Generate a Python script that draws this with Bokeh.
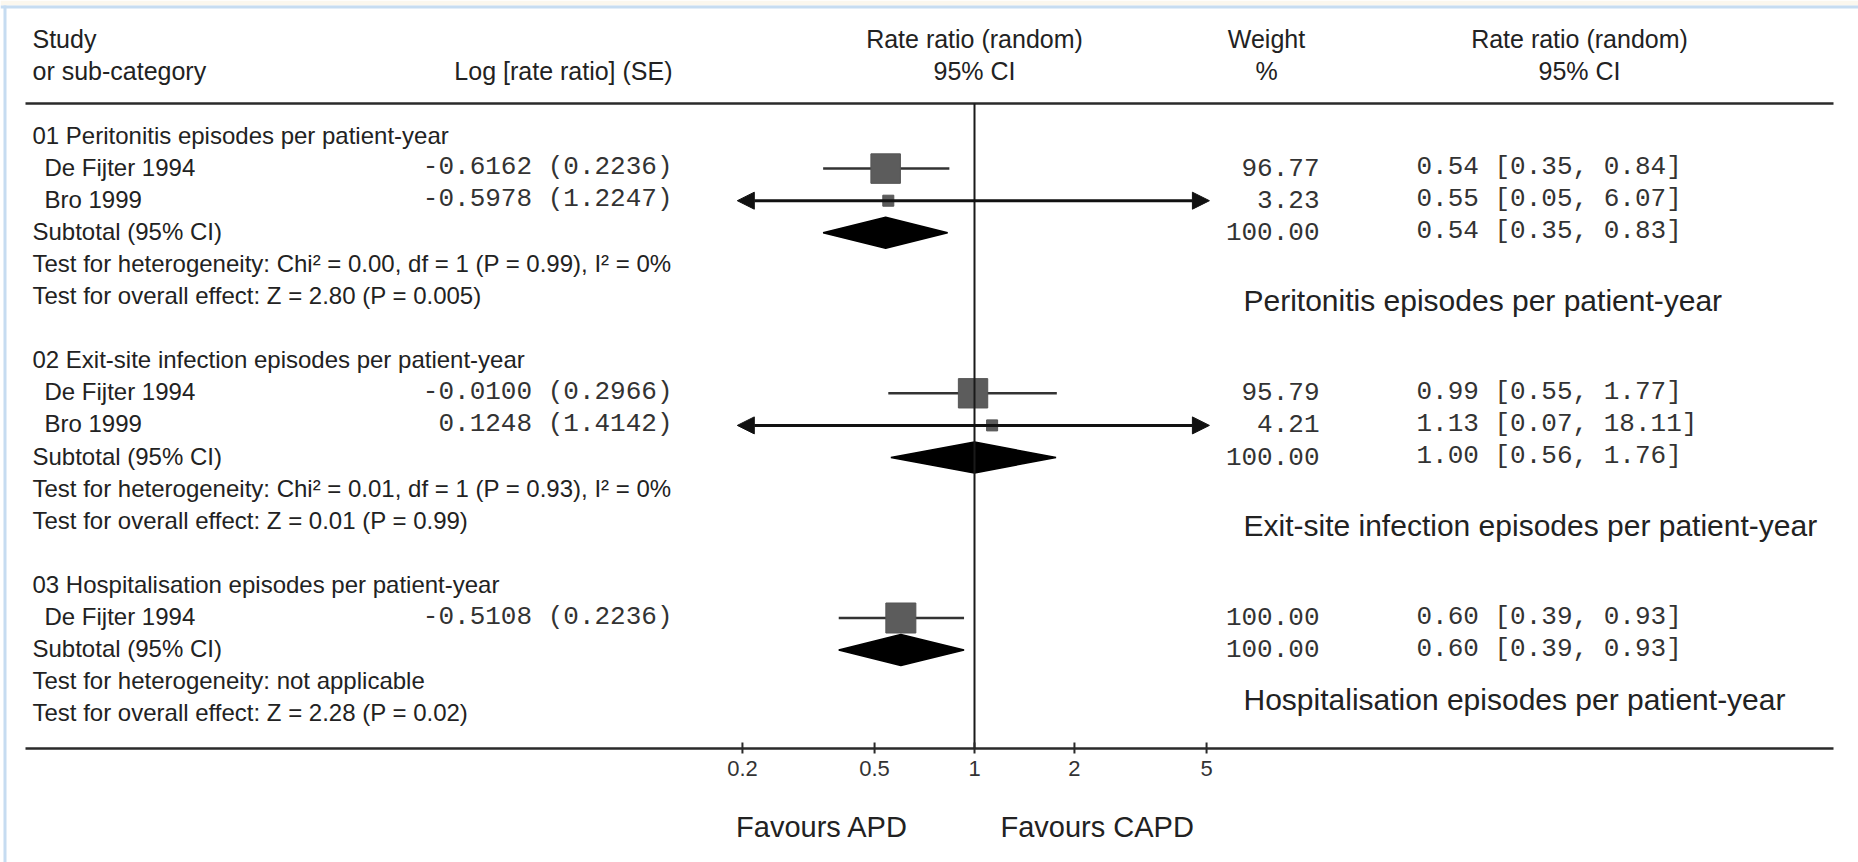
from math import sqrt
from bokeh.plotting import figure
from bokeh.models import Range1d, LogScale, Arrow, NormalHead
from bokeh.embed import file_html
from bokeh.resources import INLINE
from bokeh.core.properties import value

# ---------------- data ----------------
group_titles = ["01 Peritonitis episodes per patient-year",
                "02 Exit-site infection episodes per patient-year",
                "03 Hospitalisation episodes per patient-year"]
study_group = [0, 0, 1, 1, 2]
study_names = ["De Fijter 1994", "Bro 1999", "De Fijter 1994", "Bro 1999", "De Fijter 1994"]
log_rr = [-0.6162, -0.5978, -0.0100, 0.1248, -0.5108]
log_se = [0.2236, 1.2247, 0.2966, 1.4142, 0.2236]
weights = [96.77, 3.23, 95.79, 4.21, 100.00]
rr = [0.54, 0.55, 0.99, 1.13, 0.60]
rr_lo = [0.35, 0.05, 0.55, 0.07, 0.39]
rr_hi = [0.84, 6.07, 1.77, 18.11, 0.93]
sub_weight = [100.00, 100.00, 100.00]
sub_rr = [0.54, 1.00, 0.60]
sub_lo = [0.35, 0.56, 0.39]
sub_hi = [0.83, 1.76, 0.93]
het_texts = ["Test for heterogeneity: Chi\u00b2 = 0.00, df = 1 (P = 0.99), I\u00b2 = 0%",
             "Test for heterogeneity: Chi\u00b2 = 0.01, df = 1 (P = 0.93), I\u00b2 = 0%",
             "Test for heterogeneity: not applicable"]
overall_texts = ["Test for overall effect: Z = 2.80 (P = 0.005)",
                 "Test for overall effect: Z = 0.01 (P = 0.99)",
                 "Test for overall effect: Z = 2.28 (P = 0.02)"]
outcome_labels = ["Peritonitis episodes per patient-year",
                  "Exit-site infection episodes per patient-year",
                  "Hospitalisation  episodes per patient-year"]
tick_values = [0.2, 0.5, 1, 2, 5]
tick_labels = ["0.2", "0.5", "1", "2", "5"]
favours_labels = ["Favours APD", "Favours CAPD"]

# ---------------- layout constants ----------------
W, H = 1858, 862
Y0, STEP = 136.0, 32.1          # pixel y of row 0, pixels per row
X_ONE, PX_DEC = 974.0, 332.0    # pixel x of ratio 1, pixels per decade
LIM_LO, LIM_HI = 0.193, 5.1     # where out-of-range CIs get arrow heads
SANS = "Liberation Sans"
MONO = "Liberation Mono"
BODY = "24px"
HEAD = "25px"
MONO_SZ = "26px"
TXT_DY = -1.5 / STEP            # small upward nudge of text rows


def r(px):
    """pixel row position -> row units"""
    return (px - Y0) / STEP


# rows
rows_title, rows_study, rows_sub, rows_het, rows_ov = [], [], [], [], []
r0 = 0
for g in range(len(group_titles)):
    n = study_group.count(g)
    rows_title.append(r0)
    rows_study += [r0 + 1 + i for i in range(n)]
    rows_sub.append(r0 + 1 + n)
    rows_het.append(r0 + 2 + n)
    rows_ov.append(r0 + 3 + n)
    r0 += n + 5

p = figure(width=W, height=H, x_range=Range1d(0, W), y_range=Range1d(r(H), r(0)),
           toolbar_location=None, output_backend="svg", min_border=0,
           x_axis_location=None, y_axis_location=None, outline_line_color=None,
           background_fill_color="white", border_fill_color="white")
p.grid.visible = False
p.extra_x_ranges = {"rr": Range1d(10 ** ((0 - X_ONE) / PX_DEC), 10 ** ((W - X_ONE) / PX_DEC))}
p.extra_x_scales = {"rr": LogScale()}


def txt(x, y, s, font=SANS, size=BODY, align="left", color="#222222", **kw):
    p.text(x=x, y=[v + TXT_DY for v in y], text=s, text_font=value(font), text_font_size=size,
           text_align=align, text_baseline="middle", text_color=color, **kw)


# frame decoration
p.quad(left=0, right=W, top=r(0), bottom=r(5), fill_color="#fbf7ee", line_color=None)
p.quad(left=0, right=W, top=r(5), bottom=r(8), fill_color="#c6dcf1", line_color=None)
p.quad(left=3, right=6, top=r(5), bottom=r(H), fill_color="#c6dcf1", line_color=None)

# rules
p.segment(x0=[25, 25], x1=[1833, 1833], y0=[r(103), r(748)], y1=[r(103), r(748)],
          line_color="#2a2a2a", line_width=2.5)

# headers
txt([32, 32], [r(40), r(72)], ["Study", "or sub-category"], size=HEAD)
txt([672], [r(72)], ["Log [rate ratio] (SE)"], align="right", size=HEAD)
txt([1, 1], [r(40), r(72)], ["Rate ratio (random)", "95% CI"], align="center",
    size=HEAD, x_range_name="rr")
txt([1266, 1266], [r(40), r(72)], ["Weight", "%"], align="center", size=HEAD)
txt([1579, 1579], [r(40), r(72)], ["Rate ratio (random)", "95% CI"], align="center", size=HEAD)

# left labels
txt([32] * len(rows_title), rows_title, group_titles)
txt([44] * len(rows_study), rows_study, study_names)
txt([32] * len(rows_sub), rows_sub, ["Subtotal (95% CI)"] * len(rows_sub))
txt([32] * len(rows_het), rows_het, het_texts)
txt([32] * len(rows_ov), rows_ov, overall_texts)

# numeric columns
est_txt = [f"{a:.4f} ({b:.4f})" for a, b in zip(log_rr, log_se)]
txt([672] * len(est_txt), rows_study, est_txt, font=MONO, size=MONO_SZ, align="right", color="#333333")
w_txt = [f"{w:.2f}" for w in weights] + [f"{w:.2f}" for w in sub_weight]
w_rows = rows_study + rows_sub
txt([1319] * len(w_txt), w_rows, w_txt, font=MONO, size=MONO_SZ, align="right", color="#333333")
ci_txt = ([f"{a:.2f} [{b:.2f}, {c:.2f}]" for a, b, c in zip(rr, rr_lo, rr_hi)] +
          [f"{a:.2f} [{b:.2f}, {c:.2f}]" for a, b, c in zip(sub_rr, sub_lo, sub_hi)])
txt([1416] * len(ci_txt), w_rows, ci_txt, font=MONO, size=MONO_SZ, align="left", color="#333333")

# outcome labels on the right
txt([1243] * 3, [r(301), r(526), r(700)], outcome_labels, size="30px")

# confidence intervals
for i in range(len(rr)):
    lo_c = max(rr_lo[i], LIM_LO)
    hi_c = min(rr_hi[i], LIM_HI)
    row = rows_study[i]
    if rr_lo[i] < LIM_LO or rr_hi[i] > LIM_HI:
        head = lambda: NormalHead(size=17, fill_color="#111111", line_color="#111111")
        p.add_layout(Arrow(start=head() if rr_lo[i] < LIM_LO else None,
                           end=head() if rr_hi[i] > LIM_HI else None,
                           x_start=lo_c, x_end=hi_c, y_start=row, y_end=row,
                           line_color="#111111", line_width=3, x_range_name="rr"))
    else:
        p.segment(x0=[lo_c], x1=[hi_c], y0=[row], y1=[row], line_color="#333333",
                  line_width=2.5, x_range_name="rr")

# squares
sizes = [max(11, 30 * sqrt(w / 100.0)) for w in weights]
p.scatter(x=rr, y=rows_study, size=sizes, marker="square", fill_color="#5c5c5c",
          line_color="#555555", line_width=1, x_range_name="rr")

# diamonds
DH = 15.5 / STEP
xs = [[lo, est, hi, est] for est, lo, hi in zip(sub_rr, sub_lo, sub_hi)]
ys = [[row, row - DH, row, row + DH] for row in rows_sub]
p.patches(xs, ys, fill_color="black", line_color="black", line_width=1.5, x_range_name="rr")

# line of no effect
p.segment(x0=[1], x1=[1], y0=[r(103)], y1=[r(748)], line_color="#1a1a1a",
          line_width=2, x_range_name="rr")

# axis ticks & labels
p.segment(x0=tick_values, x1=tick_values, y0=[r(742)] * 5, y1=[r(753)] * 5,
          line_color="#2a2a2a", line_width=2, x_range_name="rr")
txt(tick_values, [r(769)] * 5, tick_labels, size="22px", align="center",
    color="#333333", x_range_name="rr")

# favours
txt([908], [r(828)], [favours_labels[0]], size="29px", align="right")
txt([1000], [r(828)], [favours_labels[1]], size="29px", align="left")

open("out.html", "w").write(file_html(p, INLINE))
